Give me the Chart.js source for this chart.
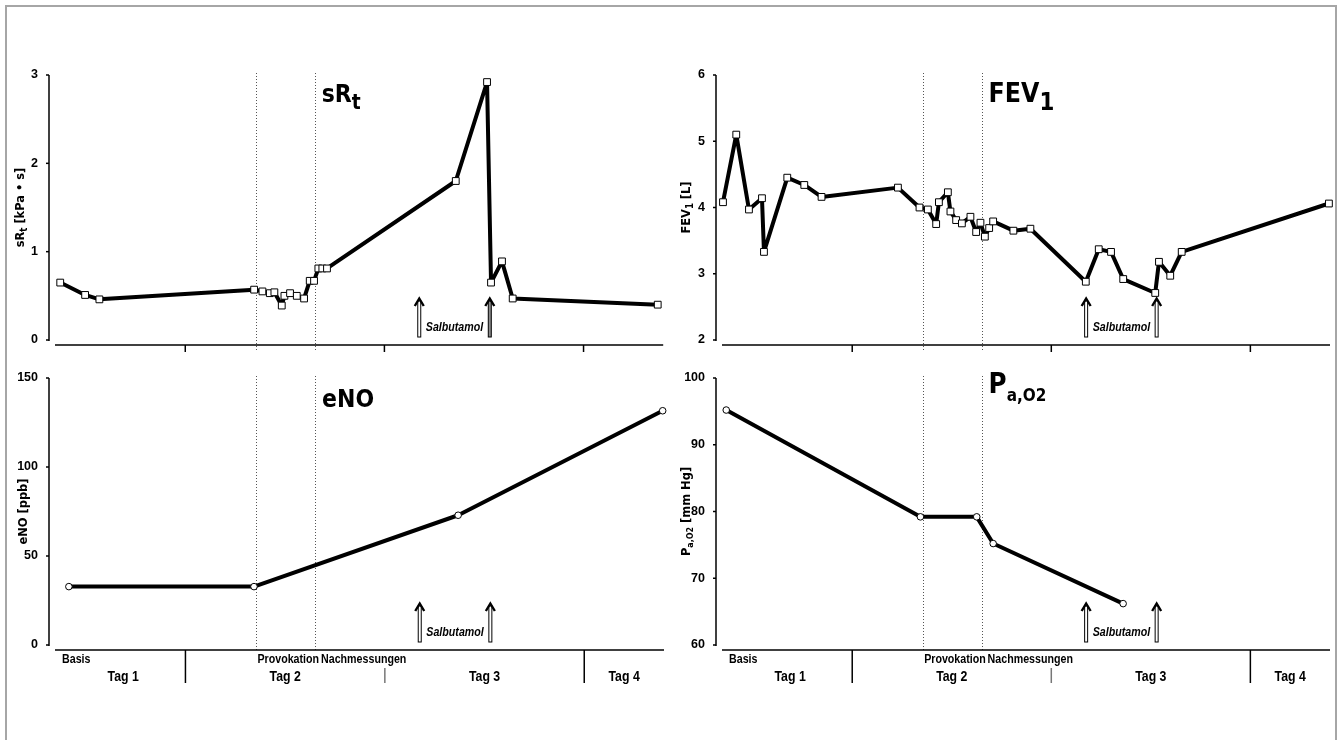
<!DOCTYPE html>
<html lang="de">
<head>
<meta charset="UTF-8">
<title>sRt, FEV1, eNO, PaO2 – Provokation</title>
<script src="https://cdn.jsdelivr.net/npm/chart.js@4.4.1/dist/chart.umd.min.js"></script>
<style>
  body { margin: 0; background: #fff; width: 1338px; height: 740px; overflow: hidden; position: relative; }
  .frame { position: absolute; left: 5px; top: 5px; width: 1328px; height: 800px; border: 2px solid #a6a6a6; }
  .panel { position: absolute; width: 669px; }
  .top { top: 0; height: 360px; }
  .bottom { top: 360px; height: 380px; }
</style>
</head>
<body>
<div class="frame"></div>
<div class="panel top" style="left:0"><canvas id="c-srt"></canvas></div>
<div class="panel top" style="left:669px"><canvas id="c-fev"></canvas></div>
<div class="panel bottom" style="left:0"><canvas id="c-eno"></canvas></div>
<div class="panel bottom" style="left:669px"><canvas id="c-pao2"></canvas></div>
<script>
    // time axis in hours from midnight of day 1
    const axisRange = [8.3, 81.6];
    const dayBounds = [24, 48, 72];
    const dayLabels = ['Tag 1', 'Tag 2', 'Tag 3', 'Tag 4'];
    const phaseMarks = [32.55, 39.6];          // Provokation, Nachmessungen
    const phaseLabels = ['Basis', 'Provokation', 'Nachmessungen'];
    const salbutamolHours = [52.2, 60.7];

    const srtHours = [8.93, 11.93, 13.65, 32.30, 33.30, 34.19, 34.74, 35.63, 35.95, 36.63, 37.44, 38.32,
        39.00, 39.52, 40.04, 40.52, 41.08, 56.60, 60.37, 60.85, 62.17, 63.46, 80.94];
    const srtValues = [0.65, 0.51, 0.46, 0.57, 0.55, 0.53, 0.54, 0.39, 0.50, 0.53, 0.50, 0.47,
        0.67, 0.67, 0.81, 0.81, 0.81, 1.80, 2.92, 0.65, 0.89, 0.47, 0.40];

    const fevHours = [8.42, 10.02, 11.55, 13.12, 13.36, 16.17, 18.22, 20.30, 29.51, 32.11, 33.12, 34.12,
        34.45, 35.53, 35.84, 36.53, 37.22, 38.25, 38.94, 39.46, 39.99, 40.51, 40.99, 43.43, 45.48,
        52.16, 53.72, 55.20, 56.67, 60.53, 60.98, 62.34, 63.72, 81.47];
    const fevValues = [4.08, 5.10, 3.97, 4.14, 3.33, 4.45, 4.34, 4.16, 4.30, 4.00, 3.97, 3.75,
        4.08, 4.23, 3.94, 3.81, 3.76, 3.86, 3.63, 3.77, 3.56, 3.69, 3.79, 3.65, 3.68,
        2.88, 3.37, 3.33, 2.92, 2.71, 3.18, 2.97, 3.33, 4.06];

    const enoHours = [9.97, 32.25, 56.82, 81.44];
    const enoValues = [32.8, 32.8, 72.9, 131.6];

    const pao2Hours = [8.81, 32.22, 39.01, 40.99, 56.66];
    const pao2Values = [95.2, 79.2, 79.2, 75.2, 66.2];

    const SANS = '"Liberation Sans", Arial, sans-serif';
    const HEAD = '"DejaVu Sans", sans-serif';
    const NARROW_X = 0.82;   // horizontal squeeze to get a narrow face
    const HEAD_X = 0.88;

    function squeeze(ctx, text, x, y, sx) {
        ctx.save();
        ctx.translate(x, y);
        ctx.scale(sx, 1);
        ctx.fillText(text, 0, 0);
        ctx.restore();
    }

    // text made of segments, some lowered as subscript
    function richWidth(ctx, parts, size, family, sx) {
        let w = 0;
        parts.forEach(p => {
            ctx.font = `bold ${p.sub ? size * p.sub : size}px ${family}`;
            w += ctx.measureText(p.t).width * sx;
        });
        return w;
    }
    function richText(ctx, x, y, parts, size, family, sx) {
        let cx = x;
        parts.forEach(p => {
            ctx.font = `bold ${p.sub ? size * p.sub : size}px ${family}`;
            squeeze(ctx, p.t, cx, y + (p.sub ? p.drop : 0), sx);
            cx += ctx.measureText(p.t).width * sx;
        });
    }

    function drawArrow(ctx, px, yTop, yBot, fill) {
        ctx.setLineDash([]);
        ctx.fillStyle = fill;
        ctx.strokeStyle = '#000';
        ctx.lineWidth = 1;
        ctx.fillRect(px - 1.5, yTop + 4, 3, yBot - yTop - 4);
        ctx.strokeRect(px - 1.5, yTop + 4, 3, yBot - yTop - 4);
        ctx.lineWidth = 2.4;
        ctx.lineJoin = 'miter';
        ctx.beginPath();
        ctx.moveTo(px - 4.5, yTop + 9);
        ctx.lineTo(px, yTop + 1.5);
        ctx.lineTo(px + 4.5, yTop + 9);
        ctx.stroke();
    }

    function decorPlugin(cfg) {
        return {
            id: 'decor',
            beforeDatasetsDraw(chart) {
                const {ctx, chartArea: a, scales: {x}} = chart;
                ctx.save();
                ctx.strokeStyle = '#555';
                ctx.lineWidth = 1;
                ctx.setLineDash([1, 2]);
                phaseMarks.forEach(h => {
                    const px = Math.round(x.getPixelForValue(h)) + 0.5;
                    ctx.beginPath();
                    ctx.moveTo(px, a.top - 2);
                    ctx.lineTo(px, a.bottom + (cfg.dayRow ? 5 : 10));
                    ctx.stroke();
                });
                ctx.restore();
            },
            afterDraw(chart) {
                const {ctx, chartArea: a, scales: {x, y}} = chart;
                const axisY = a.bottom + 5;
                const axisX = a.left - 6;
                ctx.save();
                ctx.strokeStyle = '#000';
                ctx.fillStyle = '#000';
                ctx.lineWidth = 1.5;

                // offset y axis
                ctx.beginPath();
                ctx.moveTo(axisX, y.getPixelForValue(y.max));
                ctx.lineTo(axisX, y.getPixelForValue(y.min) + 1);
                ctx.stroke();
                y.ticks.forEach(t => {
                    const py = y.getPixelForValue(t.value);
                    ctx.beginPath();
                    ctx.moveTo(axisX - 3, py);
                    ctx.lineTo(axisX, py);
                    ctx.stroke();
                });

                // x axis
                ctx.beginPath();
                ctx.moveTo(a.left, axisY);
                ctx.lineTo(a.right, axisY);
                ctx.stroke();

                if (!cfg.dayRow) {
                    dayBounds.forEach(h => {
                        const px = x.getPixelForValue(h);
                        ctx.beginPath();
                        ctx.moveTo(px, axisY);
                        ctx.lineTo(px, axisY + 7);
                        ctx.stroke();
                    });
                } else {
                    dayBounds.forEach((h, i) => {
                        const px = x.getPixelForValue(h);
                        ctx.strokeStyle = i === 1 ? '#777' : '#000';
                        ctx.beginPath();
                        ctx.moveTo(px, i === 1 ? axisY + 18 : axisY);
                        ctx.lineTo(px, axisY + 33);
                        ctx.stroke();
                    });
                    ctx.textBaseline = 'middle';
                    ctx.textAlign = 'left';
                    ctx.font = `bold 13px ${SANS}`;
                    squeeze(ctx, phaseLabels[0], a.left + 7, axisY + 9, NARROW_X);
                    squeeze(ctx, phaseLabels[1], x.getPixelForValue(phaseMarks[0]) + 1, axisY + 9, NARROW_X);
                    squeeze(ctx, phaseLabels[2], x.getPixelForValue(phaseMarks[1]) + 6, axisY + 9, NARROW_X);
                    const edges = [axisRange[0], ...dayBounds, axisRange[1]];
                    ctx.textAlign = 'center';
                    ctx.font = `bold 15px ${SANS}`;
                    dayLabels.forEach((lab, i) => {
                        const cx = (x.getPixelForValue(edges[i]) + x.getPixelForValue(edges[i + 1])) / 2;
                        squeeze(ctx, lab, cx + (i === 0 ? 3 : 0), axisY + 27, NARROW_X);
                    });
                }

                // Salbutamol arrows
                const ax = salbutamolHours.map(h => x.getPixelForValue(h));
                ax.forEach((px, i) => drawArrow(ctx, px, a.bottom - 43, a.bottom - 3, cfg.arrowFills[i]));
                ctx.fillStyle = '#000';
                ctx.font = `italic bold 13px ${SANS}`;
                ctx.textAlign = 'center';
                ctx.textBaseline = 'middle';
                squeeze(ctx, 'Salbutamol', (ax[0] + ax[1]) / 2, a.bottom - 13, NARROW_X);

                // big panel title
                ctx.textAlign = 'left';
                ctx.textBaseline = 'alphabetic';
                richText(ctx, x.getPixelForValue(phaseMarks[1]) + 7, a.top + cfg.titleDrop, cfg.title, cfg.titleSize, HEAD, HEAD_X);

                // rotated y axis title
                const w = richWidth(ctx, cfg.yTitle, 13, HEAD, HEAD_X);
                ctx.translate(cfg.yTitleX, (a.top + a.bottom) / 2);
                ctx.rotate(-Math.PI / 2);
                richText(ctx, -w / 2, 0, cfg.yTitle, 13, HEAD, HEAD_X);
                ctx.restore();
            }
        };
    }

    function makePanel(id, hours, values, cfg) {
        return new Chart(document.getElementById(id), {
            type: 'line',
            data: {
                datasets: [{
                    data: hours.map((h, i) => ({x: h, y: values[i]})),
                    borderColor: '#000',
                    borderWidth: 4,
                    borderJoinStyle: 'round',
                    tension: 0,
                    clip: false,
                    pointStyle: cfg.pointStyle,
                    pointRadius: cfg.pointRadius,
                    pointBackgroundColor: '#fff',
                    pointBorderColor: '#000',
                    pointBorderWidth: 1
                }]
            },
            options: {
                responsive: true,
                maintainAspectRatio: false,
                animation: false,
                layout: {padding: cfg.padding},
                plugins: {legend: {display: false}, tooltip: {enabled: false}},
                scales: {
                    x: {type: 'linear', min: axisRange[0], max: axisRange[1], display: false},
                    y: {
                        min: cfg.yRange[0],
                        max: cfg.yRange[1],
                        afterFit: s => { s.width = cfg.axisWidth; },
                        ticks: {stepSize: cfg.yStep, padding: 9, color: '#000',
                            font: {family: SANS, size: 12.5, weight: 'bold'}},
                        grid: {display: false},
                        border: {display: false}
                    }
                }
            },
            plugins: [decorPlugin(cfg)]
        });
    }

    makePanel('c-srt', srtHours, srtValues, {
        padding: {top: 75, bottom: 20, left: 0, right: 4}, axisWidth: 55,
        yRange: [0, 3], yStep: 1, pointStyle: 'rect', pointRadius: 4.8,
        arrowFills: ['#fff', '#8a8a8a'], dayRow: false,
        title: [{t: 'sR'}, {t: 't', sub: 0.85, drop: 7}], titleSize: 25, titleDrop: 27,
        yTitle: [{t: 'sR'}, {t: 't', sub: 0.75, drop: 3}, {t: ' [kPa • s]'}], yTitleX: 24
    });
    makePanel('c-fev', fevHours, fevValues, {
        padding: {top: 75, bottom: 20, left: 0, right: 8}, axisWidth: 53,
        yRange: [2, 6], yStep: 1, pointStyle: 'rect', pointRadius: 4.8,
        arrowFills: ['#fff', '#fff'], dayRow: false,
        title: [{t: 'FEV'}, {t: '1', sub: 0.9, drop: 7.5}], titleSize: 27, titleDrop: 27,
        yTitle: [{t: 'FEV'}, {t: '1', sub: 0.75, drop: 3}, {t: ' [L]'}], yTitleX: 21
    });
    makePanel('c-eno', enoHours, enoValues, {
        padding: {top: 18, bottom: 95, left: 0, right: 4}, axisWidth: 55,
        yRange: [0, 150], yStep: 50, pointStyle: 'circle', pointRadius: 3.3,
        arrowFills: ['#fff', '#fff'], dayRow: true,
        title: [{t: 'eNO'}], titleSize: 25, titleDrop: 29,
        yTitle: [{t: 'eNO [ppb]'}], yTitleX: 27
    });
    makePanel('c-pao2', pao2Hours, pao2Values, {
        padding: {top: 18, bottom: 95, left: 0, right: 8}, axisWidth: 53,
        yRange: [60, 100], yStep: 10, pointStyle: 'circle', pointRadius: 3.3,
        arrowFills: ['#fff', '#fff'], dayRow: true,
        title: [{t: 'P'}, {t: 'a,O2', sub: 0.62, drop: 7.5}], titleSize: 28, titleDrop: 15,
        yTitle: [{t: 'P'}, {t: 'a,O2', sub: 0.7, drop: 3}, {t: ' [mm Hg]'}], yTitleX: 21
    });
</script>
</body>
</html>
